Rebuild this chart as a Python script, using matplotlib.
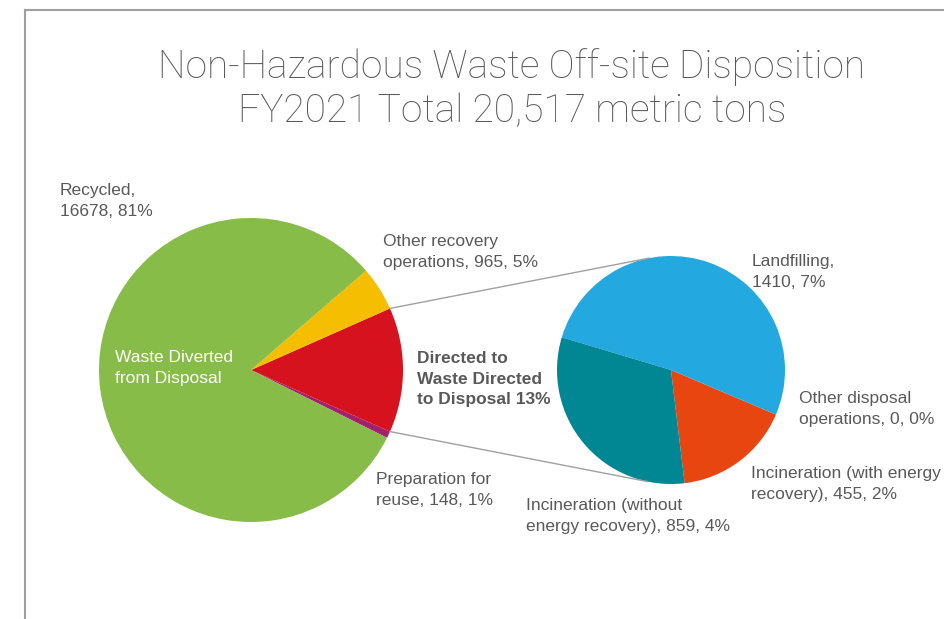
import numpy as np
import matplotlib
matplotlib.use("Agg")
import matplotlib.pyplot as plt

# main pie: counter-clockwise order
main_labels = ["Preparation for\nreuse, 148, 1%", "Directed to\nWaste Directed\nto Disposal 13%",
               "Other recovery\noperations, 965, 5%", "Recycled,\n16678, 81%"]
main_values = [148, 2724, 965, 16678]
main_colors = ["#A3206E", "#D7121F", "#F6BE00", "#86BC47"]

# secondary pie (breakdown of directed to disposal)
sub_labels = ["Incineration (with energy\nrecovery), 455, 2%", "Other disposal\noperations, 0, 0%",
              "Landfilling,\n1410, 7%", "Incineration (without\nenergy recovery), 859, 4%"]
sub_values = [455, 0, 1410, 859]
sub_colors = ["#E84610", "#FFFFFF", "#23A8E0", "#008793"]

title = "Non-Hazardous Waste Off-site Disposition\nFY2021 Total 20,517 metric tons"

W, H = 944, 619
plt.rcParams['font.family'] = ['Liberation Sans', 'DejaVu Sans']
fig = plt.figure(figsize=(W / 100, H / 100), dpi=100)
ax = fig.add_axes([0, 0, 1, 1])

def py(y):  # pixel row -> data y
    return H - y

grey = "#595959"

# frame
ax.plot([25, 25], [py(10), py(619)], color="#A0A0A0", lw=1.5)
ax.plot([25, 944], [py(10), py(10)], color="#A0A0A0", lw=1.5)

ax.text(512, py(89), title, ha='center', va='center', fontsize=28, color=grey,
        linespacing=1.25, family=['Roboto', 'Liberation Sans'], fontweight='light')

# left pie
c1 = (251, py(370)); r1 = 152
start1 = -23.9 - 360 * main_values[0] / sum(main_values)
w1, _ = ax.pie(main_values, colors=main_colors, center=c1, radius=r1,
               startangle=start1, counterclock=True, frame=True)

# right pie
c2 = (671, py(370)); r2 = 114
start2 = -23.0 - 360 * sub_values[0] / sum(sub_values)
w2, _ = ax.pie(sub_values, colors=sub_colors, center=c2, radius=r2,
               startangle=start2, counterclock=True, frame=True,
               wedgeprops=dict(linewidth=0))
ax.set_xlim(0, W)
ax.set_ylim(0, H)
ax.set_aspect('equal')
ax.axis('off')

# connector lines
red = w1[1]
for a_main, a_sub in [(red.theta2, 101), (red.theta1, -102)]:
    x0 = c1[0] + r1 * np.cos(np.radians(a_main))
    y0 = c1[1] + r1 * np.sin(np.radians(a_main))
    x1 = c2[0] + r2 * np.cos(np.radians(a_sub))
    y1 = c2[1] + r2 * np.sin(np.radians(a_sub))
    ax.plot([x0, x1], [y0, y1], color="#A0A0A0", lw=1)

fs = 12.5
ls = 1.45
ax.text(60, py(201), main_labels[3], ha='left', va='center', fontsize=fs, color=grey, linespacing=ls)
ax.text(383, py(252), main_labels[2], ha='left', va='center', fontsize=fs, color=grey, linespacing=ls)
ax.text(417, py(379), main_labels[1], ha='left', va='center', fontsize=fs, color=grey,
        fontweight='bold', linespacing=ls)
ax.text(376, py(490), main_labels[0], ha='left', va='center', fontsize=fs, color=grey, linespacing=ls)
ax.text(115, py(368), "Waste Diverted\nfrom Disposal", ha='left', va='center', fontsize=fs,
        color='white', linespacing=ls)

ax.text(752, py(272), sub_labels[2], ha='left', va='center', fontsize=fs, color=grey, linespacing=ls)
ax.text(799, py(409), sub_labels[1], ha='left', va='center', fontsize=fs, color=grey, linespacing=ls)
ax.text(751, py(484), sub_labels[0], ha='left', va='center', fontsize=fs, color=grey, linespacing=ls)
ax.text(526, py(516), sub_labels[3], ha='left', va='center', fontsize=fs, color=grey, linespacing=ls)

fig.savefig("out.png", dpi=100)
